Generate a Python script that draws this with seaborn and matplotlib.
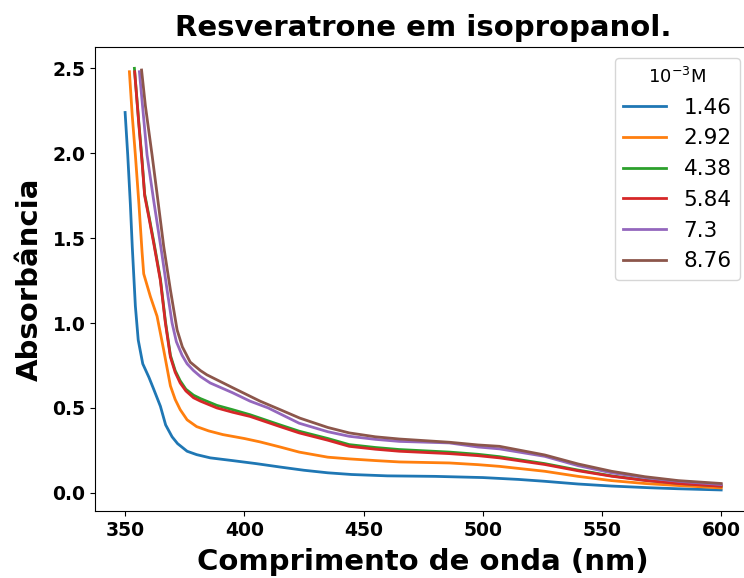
import matplotlib
matplotlib.use("Agg")
import matplotlib.pyplot as plt
import seaborn as sns
import pandas as pd

# Concentrations (10^-3 M) for each absorption spectrum
concentrations = ["1.46", "2.92", "4.38", "5.84", "7.3", "8.76"]

# Wavelength (nm) / absorbance pairs for every concentration
wl_146 = [350, 351.1, 352.2, 353, 354.3, 355.5, 357.4, 360, 362, 364.8, 367, 369.7,
          372, 376, 380, 385.7, 395, 405, 415, 425, 435, 445, 460, 480, 500, 515,
          526, 540, 554, 570, 582, 600]
abs_146 = [2.24, 1.99, 1.70, 1.45, 1.10, 0.90, 0.76, 0.68, 0.61, 0.51, 0.40, 0.33,
           0.29, 0.245, 0.225, 0.206, 0.19, 0.172, 0.152, 0.133, 0.118, 0.108, 0.10,
           0.097, 0.09, 0.079, 0.068, 0.052, 0.04, 0.03, 0.024, 0.017]

wl_292 = [351.8, 353, 354.3, 355.8, 357.1, 357.8, 360.6, 363.4, 366.2, 369, 371,
          373.1, 376, 380, 385, 391, 400, 406.6, 415, 423, 435, 444, 455, 465, 486,
          498, 507, 526, 540, 554, 568, 582, 600]
abs_292 = [2.48, 2.22, 1.99, 1.70, 1.42, 1.29, 1.156, 1.04, 0.84, 0.63, 0.55,
           0.49, 0.43, 0.39, 0.365, 0.343, 0.32, 0.30, 0.27, 0.24, 0.21, 0.20, 0.19,
           0.182, 0.176, 0.166, 0.156, 0.127, 0.097, 0.072, 0.055, 0.043, 0.029]

wl_438 = [353.9, 355.7, 357.1, 358.2, 360, 362, 364.8, 366.9, 369, 371, 373.1,
          375.5, 378.7, 381.6, 388.5, 395, 402.4, 406.6, 415, 423, 435, 444, 455,
          465, 486, 498, 507, 526, 540, 554, 568, 582, 600]
abs_438 = [2.50, 2.19, 1.96, 1.76, 1.63, 1.48, 1.26, 1.01, 0.81, 0.72, 0.66,
           0.61, 0.575, 0.555, 0.515, 0.49, 0.46, 0.44, 0.40, 0.363, 0.32, 0.284,
           0.267, 0.255, 0.24, 0.227, 0.213, 0.172, 0.134, 0.1, 0.075, 0.056, 0.04]

wl_584 = [354, 355.7, 357.1, 358.2, 360, 362, 364.8, 366.9, 369, 371, 373.1,
          375.5, 378.7, 381.6, 388.5, 395, 402.4, 406.6, 415, 423, 435, 444, 455,
          465, 486, 498, 507, 526, 540, 554, 568, 582, 600]
abs_584 = [2.48, 2.18, 1.95, 1.75, 1.62, 1.47, 1.25, 1.0, 0.80, 0.71, 0.647,
           0.60, 0.56, 0.54, 0.50, 0.475, 0.45, 0.43, 0.39, 0.353, 0.31, 0.274,
           0.257, 0.245, 0.231, 0.219, 0.206, 0.167, 0.13, 0.098, 0.073, 0.055, 0.039]

wl_730 = [356, 357.5, 359.2, 362, 365.5, 367.6, 369.7, 371.5, 373.9, 376, 378.7,
          381.6, 385.7, 395, 402.4, 410, 423, 435, 444, 455, 465, 486, 498, 507,
          526, 540, 554, 568, 582, 600]
abs_730 = [2.48, 2.25, 1.99, 1.72, 1.40, 1.195, 1.0, 0.89, 0.81, 0.76, 0.72,
           0.685, 0.647, 0.59, 0.54, 0.50, 0.41, 0.36, 0.333, 0.315, 0.303, 0.294,
           0.27, 0.259, 0.215, 0.16, 0.118, 0.09, 0.068, 0.049]

wl_876 = [356.9, 358.5, 361.3, 363.5, 366.2, 369, 371.8, 374, 377.3, 381.6, 384.3,
          395, 406.6, 415, 423.3, 435, 444, 455, 465, 486, 498, 507, 526, 540, 554,
          568, 582, 600]
abs_876 = [2.49, 2.28, 1.99, 1.75, 1.45, 1.195, 0.96, 0.86, 0.77, 0.72, 0.695,
           0.62, 0.54, 0.49, 0.44, 0.385, 0.353, 0.33, 0.317, 0.298, 0.282, 0.274,
           0.223, 0.17, 0.127, 0.095, 0.072, 0.055]

spectra = {
    "1.46": (wl_146, abs_146),
    "2.92": (wl_292, abs_292),
    "4.38": (wl_438, abs_438),
    "5.84": (wl_584, abs_584),
    "7.3": (wl_730, abs_730),
    "8.76": (wl_876, abs_876),
}

rows = []
for conc in concentrations:
    wl, ab = spectra[conc]
    for w, a in zip(wl, ab):
        rows.append({"wavelength": w, "absorbance": a, "conc": conc})
df = pd.DataFrame(rows)

fig = plt.figure(figsize=(7.44, 5.78), dpi=100)
ax = fig.add_axes([0.1281, 0.1159, 0.8813, 0.8023])

sns.lineplot(data=df, x="wavelength", y="absorbance", hue="conc",
             hue_order=concentrations, palette="tab10", errorbar=None,
             linewidth=2.0, ax=ax)

ax.set_xlim(337.5, 612.5)
ax.set_ylim(-0.107, 2.624)
ax.set_xticks([350, 400, 450, 500, 550, 600])
ax.set_yticks([0.0, 0.5, 1.0, 1.5, 2.0, 2.5])
for lbl in ax.get_xticklabels() + ax.get_yticklabels():
    lbl.set_fontweight("bold")
    lbl.set_fontsize(13.5)

ax.set_title("Resveratrone em isopropanol.", fontsize=21, fontweight="bold", pad=8)
ax.set_xlabel("Comprimento de onda (nm)", fontsize=21, fontweight="bold", labelpad=6)
ax.set_ylabel("Absorbância", fontsize=21, fontweight="bold", labelpad=6)

ax.legend(title="$10^{-3}$M", loc="upper right", fontsize=15.5, title_fontsize=13)

fig.savefig("out.png", dpi=100)
